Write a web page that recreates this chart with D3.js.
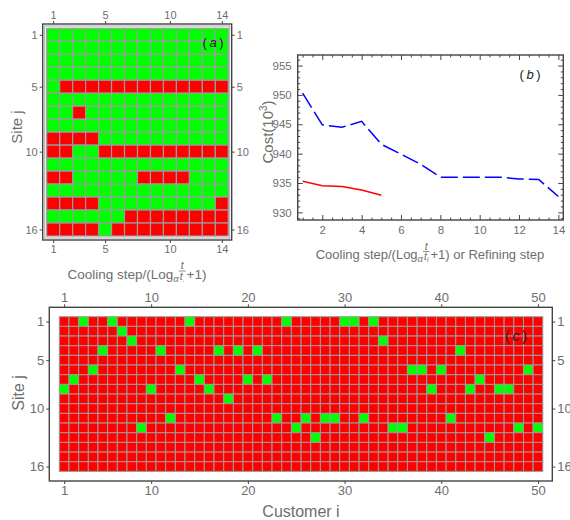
<!DOCTYPE html>
<html><head><meta charset="utf-8">
<script src="https://cdn.jsdelivr.net/npm/d3@7"></script>
<style>
body{margin:0;background:#fff}
svg{display:block}
text{font-family:"Liberation Sans",Arial,sans-serif}
</style>
</head><body>
<svg id="chart" width="570" height="520"></svg>
<script>
// ---------------- DATA ----------------
const coolSteps = d3.range(1, 15);          // 1..14
const sites = d3.range(1, 17);              // 1..16
// site open (1 = green) per cooling step, one string per site j
const siteState = [
  "11111111111111",
  "11111111111111",
  "11111111111111",
  "11111111111111",
  "10000000000000",
  "11111111111111",
  "11011111111111",
  "11111111111111",
  "00001111111111",
  "00110000000000",
  "11111111111111",
  "00111110000111",
  "11111111111111",
  "00001111111110",
  "11111100000000",
  "00001000000000"
];
const costSteps = d3.range(1, 15);
const costCooling = [950.3, 944.9, 944.5, 945.5, 941.6, 939.9, 938.2, 936.0, 936.0, 936.0, 936.0, 935.7, 935.6, 932.7];
const refineSteps = [1, 2, 3, 4, 5];
const costRefining = [935.3, 934.55, 934.4, 933.8, 932.9];
const customers = d3.range(1, 51);          // 1..50
const assignedSite = [8,7,1,6,4,1,2,3,12,8, 4,11,6,1,7,8,4,9,4,7, 4,7,11,1,12,11,13,11,11,1, 1,11,1,3,12,12,6,6,8,6, 11,4,8,7,13,8,8,12,6,12];
const ticksAx = [1, 5, 10, 14];
const ticksSite = [1, 5, 10, 16];
const ticksBx = [2, 4, 6, 8, 10, 12, 14];
const ticksBy = [930, 935, 940, 945, 950, 955];
const ticksCx = [1, 10, 20, 30, 40, 50];

// ---------------- STYLE ----------------
const RED = "#ff0000", GREEN = "#00ff00", BLUE = "#0000ff";
const MESH = "#9c9c9c", FRAME = "#444", TXT = "#6e6e6e";
const svg = d3.select("#chart");

function styleAxis(sel, fs, pad) {
  sel.select(".domain").remove();
  sel.selectAll(".tick line").attr("stroke", FRAME).attr("stroke-width", 1);
  sel.selectAll(".tick text").attr("fill", TXT).attr("font-size", fs)
     .attr("font-family", '"Liberation Sans",Arial,sans-serif');
}
function frameAxes(g, xs, ys, f, xt, yt, fs, tl, pad, labels) {
  const sides = [
    [d3.axisTop(xs).tickValues(xt), `translate(0,${f.t})`, labels.top],
    [d3.axisBottom(xs).tickValues(xt), `translate(0,${f.b})`, labels.bottom],
    [d3.axisLeft(ys).tickValues(yt), `translate(${f.l},0)`, labels.left],
    [d3.axisRight(ys).tickValues(yt), `translate(${f.r},0)`, labels.right]
  ];
  sides.forEach(([ax, tr, show]) => {
    ax.tickSize(tl).tickPadding(pad);
    if (!show) ax.tickFormat("");
    const a = g.append("g").attr("transform", tr).call(ax);
    styleAxis(a, fs, pad);
  });
}
function richLabel(parent, cx, cy, rotate, parts, color) {
  const g = parent.append("g");
  let x = 0;
  parts.forEach(p => {
    if (p.frac) {
      const num = g.append("text").attr("font-size", p.size).attr("font-style", "italic")
        .attr("fill", color).attr("y", -p.bar - 1.8).text(p.num);
      const den = g.append("text").attr("font-size", p.size).attr("font-style", "italic")
        .attr("fill", color).attr("y", -p.bar + p.size * 0.82).text(p.den);
      if (p.sub) den.append("tspan").attr("font-size", p.size * 0.65).attr("dy", 2).text(p.sub);
      const nw = num.node().getComputedTextLength(), dw = den.node().getComputedTextLength();
      const w = Math.max(nw, dw) + 2;
      num.attr("x", x + (w - nw) / 2);
      den.attr("x", x + (w - dw) / 2);
      g.append("line").attr("x1", x).attr("x2", x + w).attr("y1", -p.bar).attr("y2", -p.bar)
        .attr("stroke", color).attr("stroke-width", 0.8);
      x += w + 1;
    } else {
      const t = g.append("text").attr("x", x).attr("y", p.dy || 0).attr("font-size", p.size)
        .attr("fill", color).attr("font-style", p.italic ? "italic" : "normal").text(p.text);
      x += t.node().getComputedTextLength();
    }
  });
  if (rotate) g.attr("transform", `translate(${cx},${cy}) rotate(-90) translate(${-x / 2},0)`);
  else g.attr("transform", `translate(${cx - x / 2},${cy})`);
}
function panelTag(parent, cx, cy, letter, fs) {
  richLabel(parent, cx, cy, false, [
    {text: "(", size: fs}, {text: "\u2009" + letter + "\u2009", size: fs, italic: true}, {text: ")", size: fs}
  ], "#222");
}

// ---------------- PANEL (a) ----------------
{
  const g = svg.append("g");
  const xs = d3.scaleLinear().domain([0.5, 14.5]).range([46.7, 228.3]);
  const ys = d3.scaleLinear().domain([0.5, 16.5]).range([28.3, 236]);
  const cells = [];
  siteState.forEach((row, r) => row.split("").forEach((v, c) =>
    cells.push({site: sites[r], step: coolSteps[c], open: v === "1"})));
  g.selectAll("rect.cell").data(cells).join("rect").attr("class", "cell")
    .attr("x", d => xs(d.step - 0.5)).attr("y", d => ys(d.site - 0.5))
    .attr("width", xs(1.5) - xs(0.5)).attr("height", ys(1.5) - ys(0.5))
    .attr("fill", d => d.open ? GREEN : RED).attr("stroke", MESH).attr("stroke-width", 1.2);
  const f = {l: 42.7, r: 231.7, t: 24, b: 240};
  g.append("rect").attr("x", f.l + 2).attr("y", f.t + 2).attr("width", f.r - f.l - 4).attr("height", f.b - f.t - 4)
    .attr("fill", "none").attr("stroke", "#aaa").attr("stroke-width", 1);
  g.append("rect").attr("x", f.l).attr("y", f.t).attr("width", f.r - f.l).attr("height", f.b - f.t)
    .attr("fill", "none").attr("stroke", FRAME).attr("stroke-width", 1.4);
  frameAxes(g, xs, ys, f, ticksAx, ticksSite, 11, 3, 2, {top: true, bottom: true, left: true, right: true});
  panelTag(g, 213, 47, "a", 13);
  richLabel(g, 137, 278.5, false, [
    {text: "Cooling step/(Log", size: 13.5},
    {text: "\u03b1", size: 9.5, italic: true, dy: 3},
    {frac: true, num: "t", den: "t", sub: ".", size: 10.5, bar: 7.5},
    {text: "+1)", size: 13.5}
  ], TXT);
  richLabel(g, 22, 127, true, [{text: "Site j", size: 15}], TXT);
}

// ---------------- PANEL (b) ----------------
{
  const g = svg.append("g");
  const f = {l: 297.7, r: 563.3, t: 55, b: 220};
  const xs = d3.scaleLinear().domain([0.75, 14.25]).range([f.l, f.r]);
  const ys = d3.scaleLinear().domain([928.7, 956.8]).range([f.b, f.t]);
  const line = d3.line().x(d => xs(d[0])).y(d => ys(d[1]));
  g.append("path").datum(d3.zip(costSteps, costCooling)).attr("d", line)
    .attr("fill", "none").attr("stroke", BLUE).attr("stroke-width", 1.5).attr("stroke-dasharray", "17,5");
  g.append("path").datum(d3.zip(refineSteps, costRefining)).attr("d", line)
    .attr("fill", "none").attr("stroke", RED).attr("stroke-width", 1.5);
  // minor ticks
  const minorX = d3.range(1, 14.01, 0.5).filter(v => v % 2 !== 0);
  const minorY = d3.range(929, 956.01, 1).filter(v => v % 5 !== 0);
  frameAxes(g, xs, ys, f, minorX, minorY, 11, -2.5, 6, {top: false, bottom: false, left: false, right: false});
  frameAxes(g, xs, ys, f, ticksBx, ticksBy, 11.5, -5, 6, {top: false, bottom: true, left: true, right: false});
  g.append("rect").attr("x", f.l).attr("y", f.t).attr("width", f.r - f.l).attr("height", f.b - f.t)
    .attr("fill", "none").attr("stroke", FRAME).attr("stroke-width", 1.4);
  panelTag(g, 530, 79, "b", 13);
  richLabel(g, 430, 259, false, [
    {text: "Cooling step/(Log", size: 13},
    {text: "\u03b1", size: 9.5, italic: true, dy: 3},
    {frac: true, num: "t", den: "t", sub: "i", size: 10.5, bar: 7.5},
    {text: "+1) or Refining step", size: 13}
  ], TXT);
  richLabel(g, 273, 132, true, [
    {text: "Cost(10", size: 15}, {text: "3", size: 10, dy: -6}, {text: ")", size: 15}
  ], TXT);
}

// ---------------- PANEL (c) ----------------
{
  const g = svg.append("g");
  const xs = d3.scaleLinear().domain([0.5, 50.5]).range([59.3, 542.8]);
  const ys = d3.scaleLinear().domain([0.5, 16.5]).range([316.7, 471.4]);
  const cells = [];
  sites.forEach(s => customers.forEach((c, i) => cells.push({site: s, cust: c, on: assignedSite[i] === s})));
  g.selectAll("rect.cell").data(cells).join("rect").attr("class", "cell")
    .attr("x", d => xs(d.cust - 0.5)).attr("y", d => ys(d.site - 0.5))
    .attr("width", xs(1.5) - xs(0.5)).attr("height", ys(1.5) - ys(0.5))
    .attr("fill", d => d.on ? GREEN : RED).attr("stroke", MESH).attr("stroke-width", 1);
  const f = {l: 49.3, r: 552.3, t: 307.3, b: 481};
  g.append("rect").attr("x", f.l).attr("y", f.t).attr("width", f.r - f.l).attr("height", f.b - f.t)
    .attr("fill", "none").attr("stroke", FRAME).attr("stroke-width", 1.4);
  frameAxes(g, xs, ys, f, ticksCx, ticksSite, 13, 3, 2, {top: true, bottom: true, left: true, right: true});
  panelTag(g, 516, 341, "c", 14);
  richLabel(g, 301, 517, false, [{text: "Customer i", size: 16}], TXT);
  richLabel(g, 24, 393, true, [{text: "Site j", size: 16}], TXT);
}
</script>
</body></html>
